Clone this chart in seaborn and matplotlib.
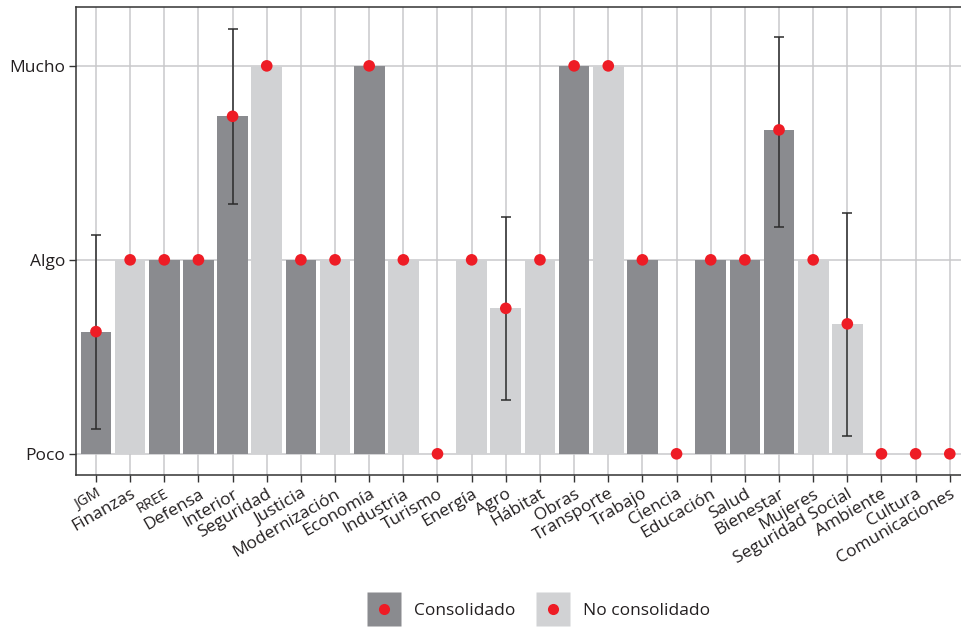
import numpy as np
import pandas as pd
import matplotlib
matplotlib.use("Agg")
import matplotlib.pyplot as plt
from matplotlib.lines import Line2D
import seaborn as sns

# Organismos evaluados
organismos = ["JGM", "Finanzas", "RREE", "Defensa", "Interior", "Seguridad", "Justicia",
              "Modernización", "Economía", "Industria", "Turismo", "Energía", "Agro",
              "Hábitat", "Obras", "Transporte", "Trabajo", "Ciencia", "Educación", "Salud",
              "Bienestar", "Mujeres", "Seguridad Social", "Ambiente", "Cultura",
              "Comunicaciones"]

# Nivel medio (1 = Poco, 2 = Algo, 3 = Mucho)
nivel = [1.63, 2, 2, 2, 2.74, 3, 2, 2, 3, 2, 1, 2, 1.75, 2, 3, 3, 2, 1, 2, 2,
         2.67, 2, 1.67, 1, 1, 1]

# Intervalo inferior y superior (None = sin intervalo)
inferior = [1.13, None, None, None, 2.29, None, None, None, None, None, None, None, 1.28,
            None, None, None, None, None, None, None, 2.17, None, 1.09, None, None, None]
superior = [2.13, None, None, None, 3.19, None, None, None, None, None, None, None, 2.22,
            None, None, None, None, None, None, None, 3.15, None, 2.24, None, None, None]

grupo = ["Consolidado", "No consolidado", "Consolidado", "Consolidado", "Consolidado",
         "No consolidado", "Consolidado", "No consolidado", "Consolidado", "No consolidado",
         "No consolidado", "No consolidado", "No consolidado", "No consolidado", "Consolidado",
         "No consolidado", "Consolidado", "No consolidado", "Consolidado", "Consolidado",
         "Consolidado", "No consolidado", "No consolidado", "No consolidado", "No consolidado",
         "No consolidado"]

niveles_etiquetas = ["Poco", "Algo", "Mucho"]
grupos = ["Consolidado", "No consolidado"]

COL_OSCURO = "#8a8b8f"
COL_CLARO = "#d1d2d4"
COL_PUNTO = "#ee1c25"
COL_GRID = "#c9c9cb"
COL_TEXTO = "#231f20"

sns.set_theme(style="white")
plt.rcParams["font.family"] = ["Open Sans", "DejaVu Sans"]

# Heights measured from the "Poco" baseline
df = pd.DataFrame({"organismo": organismos, "grupo": grupo,
                   "altura": np.array(nivel) - 1})

fig = plt.figure(figsize=(9.62, 6.28), dpi=100)
ax = fig.add_axes([0.079, 0.244, 0.9225, 0.745])

sns.barplot(data=df, x="organismo", y="altura", hue="grupo", hue_order=grupos,
            order=organismos, palette=[COL_OSCURO, COL_CLARO], dodge=False,
            width=0.9, saturation=1, legend=False, linewidth=0, edgecolor="none",
            ax=ax, zorder=2)

xs = np.arange(len(organismos))
for i in range(len(organismos)):
    if inferior[i] is not None:
        ax.errorbar(xs[i], nivel[i] - 1,
                    yerr=[[nivel[i] - inferior[i]], [superior[i] - nivel[i]]],
                    fmt="none", ecolor="#2b2b2b", elinewidth=1.1, capsize=3.8,
                    capthick=1.1, zorder=3)

sns.scatterplot(x=xs, y=np.array(nivel) - 1, color=COL_PUNTO, s=70, edgecolor="none",
                ax=ax, zorder=4, legend=False)

ax.set_xlim(-0.585, 25.4)
ax.set_ylim(-0.108, 2.304)
ax.set_yticks([0, 1, 2])
ax.set_yticklabels(niveles_etiquetas, fontsize=12.5, color=COL_TEXTO)
ax.set_xticks(xs)
ax.set_xticklabels(organismos, rotation=30, ha="right", rotation_mode="anchor",
                   fontsize=12.5, color=COL_TEXTO)
for etiqueta in ax.get_xticklabels():
    if etiqueta.get_text() in ("JGM", "RREE"):
        etiqueta.set_fontsize(10.5)
ax.set_xlabel("")
ax.set_ylabel("")

ax.grid(True, color=COL_GRID, linewidth=1.1, zorder=0)
ax.set_axisbelow(True)
ax.tick_params(axis="both", length=5, width=1, color="#333333", left=True, bottom=True,
               pad=3)
for lado in ["left", "bottom", "top"]:
    ax.spines[lado].set_color("#333333")
    ax.spines[lado].set_linewidth(1.1)
ax.spines["right"].set_visible(False)

# Legend keys: grey square with a red dot on top
def clave(color):
    caja = Line2D([], [], linestyle="none", marker="s", markersize=25,
                  markerfacecolor=color, markeredgecolor="none")
    punto = Line2D([], [], linestyle="none", marker="o", markersize=8,
                   markerfacecolor=COL_PUNTO, markeredgecolor="none")
    return (caja, punto)

fig.legend([clave(COL_OSCURO), clave(COL_CLARO)], grupos, loc="center",
           bbox_to_anchor=(540 / 962, 1 - 611 / 628), ncol=2, frameon=False,
           fontsize=12.5, handlelength=1.6, handletextpad=0.9, columnspacing=1.4,
           labelcolor=COL_TEXTO)

fig.savefig("out.png", dpi=100)
